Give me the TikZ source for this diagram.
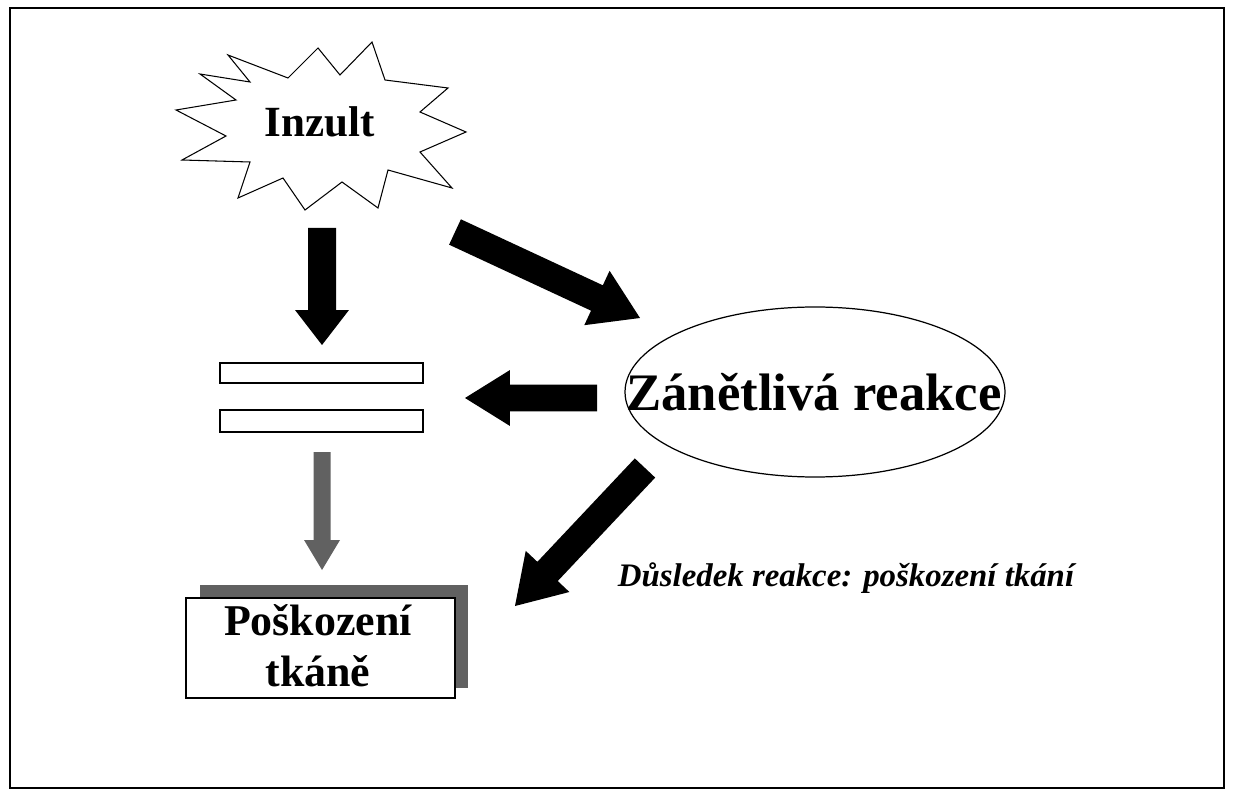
\documentclass[tikz,border=0pt]{standalone}
\usepackage{fontspec}
\setmainfont{Liberation Serif}
\usetikzlibrary{calc}
\newcommand{\barrow}[6]{%
  \coordinate (H#1#2) at ($(#2)!#5!(#1)$);
  \fill[#6] ($(#1)!#3!90:(#2)$) -- ($(H#1#2)!#3!90:(#2)$) -- ($(H#1#2)!#4!90:(#2)$) -- (#2)
   -- ($(H#1#2)!#4!-90:(#2)$) -- ($(H#1#2)!#3!-90:(#2)$) -- ($(#1)!#3!-90:(#2)$) -- cycle;}
\begin{document}
\begin{tikzpicture}[x=0.02cm,y=-0.02cm,
  lbl/.style={font=\bfseries\fontsize{25pt}{29pt}\selectfont, align=center}]
\useasboundingbox (0,0) rectangle (1234,800);
\fill[white] (0,0) rectangle (1234,800);
\draw[line width=0.8pt] (10,8) rectangle (1224,788);
% starburst
\draw[line width=0.6pt,fill=white] (228,55) -- (288,78) -- (318,48) -- (340,75) -- (372,42) -- (385,80) -- (448,88)
 -- (420,112) -- (466,132) -- (420,152) -- (452,188) -- (388,170) -- (378,208) -- (342,182) -- (305,210)
 -- (283,178) -- (238,198) -- (250,162) -- (182,160) -- (226,136) -- (176,110) -- (236,100) -- (200,74) -- (250,82) -- cycle;
\node[lbl,font=\bfseries\fontsize{24.5pt}{28pt}\selectfont] (inz) at (320,122) {Inzult};
% bars
\draw[line width=0.7pt] (220,363) rectangle (423,383);
\draw[line width=0.7pt] (220,410) rectangle (423,432);
% ellipse
\draw[line width=0.7pt] (815,392) ellipse [x radius=190, y radius=85];
\node[lbl,font=\bfseries\fontsize{30pt}{34pt}\selectfont] (zan) at (814,392) {Zánětlivá reakce};
% arrows
\coordinate (a1) at (322,228); \coordinate (b1) at (322,345);
\barrow{a1}{b1}{0.28cm}{0.54cm}{0.7cm}{black}
\coordinate (a2) at (597,398); \coordinate (b2) at (465,398);
\barrow{a2}{b2}{0.27cm}{0.56cm}{0.9cm}{black}
\coordinate (a3) at (455,232); \coordinate (b3) at (640,318);
\barrow{a3}{b3}{0.28cm}{0.6cm}{0.95cm}{black}
\coordinate (a4) at (645,468); \coordinate (b4) at (515,606);
\barrow{a4}{b4}{0.28cm}{0.6cm}{0.95cm}{black}
\coordinate (a5) at (322,452); \coordinate (b5) at (322,570);
\barrow{a5}{b5}{0.17cm}{0.36cm}{0.6cm}{black!62}
% box
\fill[black!62] (200,585) rectangle (468,688);
\draw[line width=0.6pt,fill=white] (186,598) rectangle (455,698);
\node[lbl] (pos) at (318,646) {Poškození\\tkáně};
\node[font=\bfseries\itshape\fontsize{18.7pt}{22pt}\selectfont] (dus) at (846,578) {Důsledek reakce: poškození tkání};
\end{tikzpicture}
\end{document}
